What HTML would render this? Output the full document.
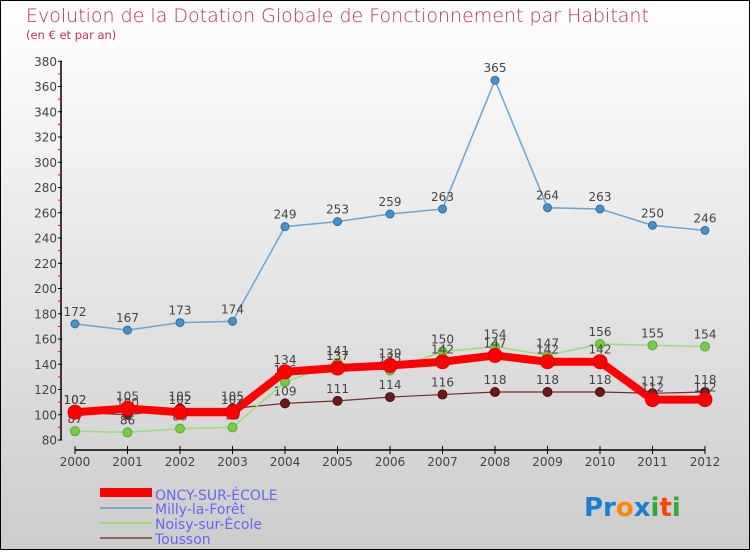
<!DOCTYPE html>
<html><head><meta charset="utf-8"><style>
body{margin:0}
#c{width:750px;height:550px;position:relative;font-family:"DejaVu Sans","Liberation Sans",sans-serif}
</style></head><body>
<div id="c">
<svg id="s" width="750" height="550" xmlns="http://www.w3.org/2000/svg">
<defs><linearGradient id="bg" x1="0" y1="0" x2="0" y2="1"><stop offset="0" stop-color="#ffffff"/><stop offset="1" stop-color="#cccccc"/></linearGradient></defs>
<rect x="0.5" y="0.5" width="749" height="549" fill="url(#bg)" stroke="#000"/>
<text x="26" y="22" font-size="19" fill="#b5325f" style="font-weight:200">Evolution de la Dotation Globale de Fonctionnement par Habitant</text>
<text x="26" y="39" font-size="11.5" fill="#b5325f">(en € et par an)</text>
<g id="axes"></g><g id="series"></g>
<g>
<rect x="100" y="488" width="52" height="9" fill="#ff0000"/>
<text x="155" y="500" font-size="14" fill="#6666ee">ONCY-SUR-ÉCOLE</text>
<rect x="100" y="507" width="52" height="2" fill="#7aa9d0"/>
<text x="155" y="514" font-size="14" fill="#6666ee">Milly-la-Forêt</text>
<rect x="100" y="522" width="52" height="2" fill="#99d97a"/>
<text x="155" y="529" font-size="14" fill="#6666ee">Noisy-sur-École</text>
<rect x="100" y="537" width="52" height="2" fill="#946060"/>
<text x="155" y="544" font-size="14" fill="#6666ee">Tousson</text>
</g>
<g font-size="26" font-weight="bold">
<text x="584" y="516"><tspan fill="#1a7fd0">Pr</tspan><tspan fill="#ff8800">o</tspan><tspan fill="#1a7fd0">x</tspan><tspan fill="#33aa33">i</tspan><tspan fill="#ff4400">t</tspan><tspan fill="#33aa33">i</tspan></text>
</g>
</svg></div>
<script>
const years=[2000,2001,2002,2003,2004,2005,2006,2007,2008,2009,2010,2011,2012];
const oncy=[102,105,102,102,134,137,139,142,147,142,142,112,112];
const milly=[172,167,173,174,249,253,259,263,365,264,263,250,246];
const noisy=[87,86,89,90,126,141,135,150,154,147,156,155,154];
const tousson=[102,100,105,105,109,111,114,116,118,118,118,117,118];
const yTicks=[80,100,120,140,160,180,200,220,240,260,280,300,320,340,360,380];
const NS="http://www.w3.org/2000/svg";
const xs=i=>75+i*52.5;
const ys=v=>440-(v-80)*1.2625;
function mk(p,t,a){const e=document.createElementNS(NS,t);for(const k in a)e.setAttribute(k,a[k]);p.appendChild(e);return e;}
const ax=document.getElementById('axes');
const yl=mk(ax,'line',{x1:61,y1:ys(380),x2:61,y2:440,stroke:'#000','stroke-width':1.5});


const yMax=yTicks[yTicks.length-1];
yTicks.forEach(v=>{
 const t=mk(ax,'line',{x1:58,x2:62,y1:ys(v),y2:ys(v),stroke:'#000'});
 
 
 if(v<yMax){
  const m=mk(ax,'line',{x1:58,x2:61,y1:ys(v+10),y2:ys(v+10),stroke:'#ff0000'});
  
  
 }
 const l=mk(ax,'text',{x:57,y:ys(v)+4.5,'text-anchor':'end','font-size':12,fill:'#444'});
 l.textContent=v;
 
 
});
const xl=mk(ax,'line',{x1:xs(0),x2:xs(12),y1:450,y2:450,stroke:'#000','stroke-width':1.5});


years.forEach((y,i)=>{
 const t=mk(ax,'line',{x1:xs(i),x2:xs(i),y1:446,y2:454,stroke:'#000'});
 
 
 const l=mk(ax,'text',{x:xs(i),y:466,'text-anchor':'middle','font-size':12,fill:'#444'});
 l.textContent=y;
 
 
});
const sg=document.getElementById('series');
function series(name,vals,color,w,r,dot,dotStroke){
 const g=mk(sg,'g',{});
 
 
 const pl=mk(g,'polyline',{points:vals.map((v,i)=>xs(i)+','+ys(v)).join(' '),fill:'none',stroke:color,'stroke-width':w,'stroke-linejoin':'round'});
 
 
 vals.forEach((v,i)=>{
  const c=mk(g,'circle',{cx:xs(i),cy:ys(v),r:r,fill:dot,stroke:dotStroke,'stroke-width':1});
  
  
  const t=mk(g,'text',{x:xs(i),y:ys(v)-8,'text-anchor':'middle','font-size':12,fill:'#444'});
  t.textContent=v;
  
  
 });
}
series('tousson',tousson,'#7a2a2a',1.2,4.5,'#6a1a1a','#4a1010');
series('noisy',noisy,'#99dd77',1.5,4.5,'#77cc44','#55aa33');
series('milly',milly,'#6aa5d5',1.5,4,'#4a90c8','#2a70a8');
series('oncy',oncy,'#ff0000',8,7,'#ff0000','#dd0000');
</script>
</body></html>
